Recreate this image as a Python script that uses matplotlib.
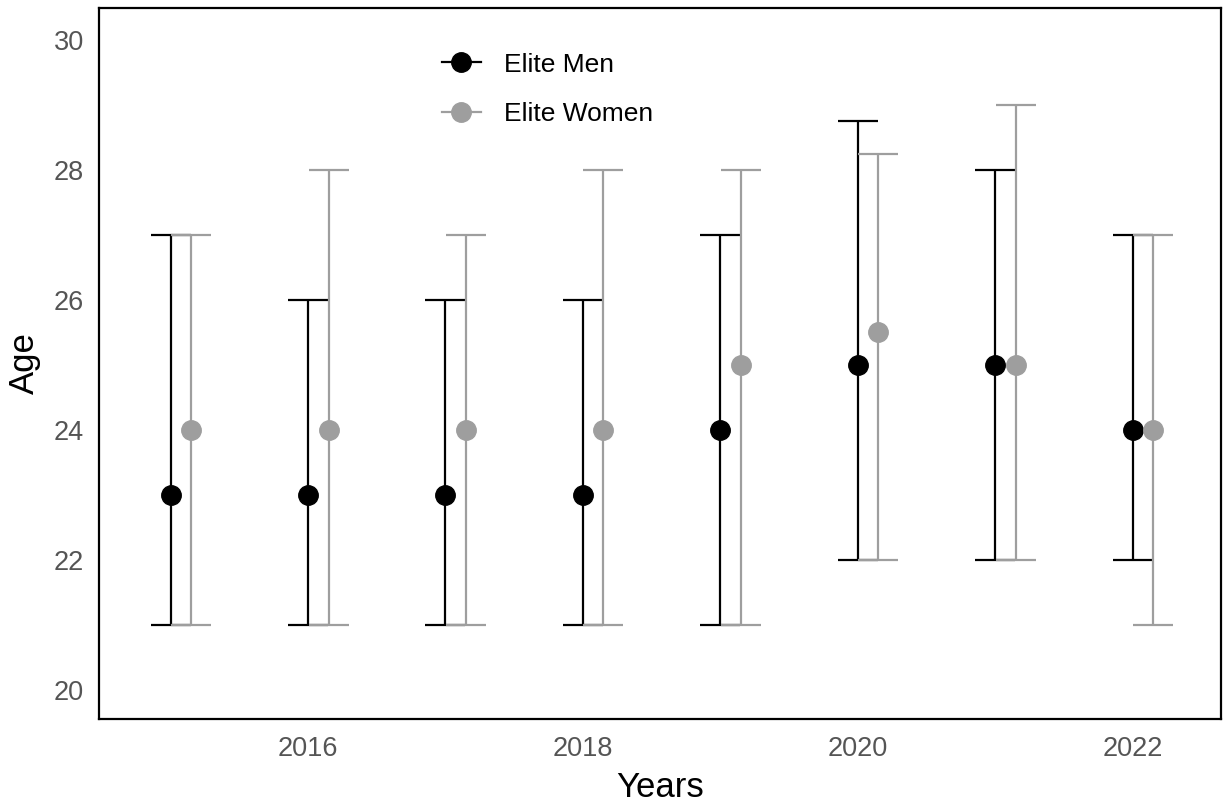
import matplotlib
matplotlib.use("Agg")
import matplotlib.pyplot as plt
from matplotlib.lines import Line2D
import numpy as np

plt.rcParams["font.family"] = ["Liberation Sans", "DejaVu Sans"]

years = np.array([2015, 2016, 2017, 2018, 2019, 2020, 2021, 2022])

# median age and range (low / high) for each group
men_age = [23, 23, 23, 23, 24, 25, 25, 24]
men_low = [21, 21, 21, 21, 21, 22, 22, 22]
men_high = [27, 26, 26, 26, 27, 28.75, 28, 27]

women_age = [24, 24, 24, 24, 25, 25.5, 25, 24]
women_low = [21, 21, 21, 21, 21, 22, 22, 21]
women_high = [27, 28, 27, 28, 28, 28.25, 29, 27]

MEN_COLOR = "black"
WOMEN_COLOR = "#9E9E9E"


def draw_group(ax, x, age, low, high, color, label):
    age = np.array(age)
    yerr = np.vstack([age - np.array(low), np.array(high) - age])
    ax.errorbar(x, age, yerr=yerr, fmt="o", color=color, ecolor=color,
                elinewidth=1.6, capsize=14.4, capthick=1.6, markersize=14,
                linewidth=0, label=label)


def main() -> None:
    fig = plt.figure(figsize=(12.23, 8.05), dpi=100)
    ax = fig.add_axes([0.081, 0.107, 0.917, 0.883])

    draw_group(ax, years, men_age, men_low, men_high, MEN_COLOR, "Elite Men")
    # women dodged slightly to the right
    draw_group(ax, years + 0.15, women_age, women_low, women_high, WOMEN_COLOR, "Elite Women")

    ax.set_xlim(2014.48, 2022.64)
    ax.set_ylim(19.55, 30.49)
    ax.set_xticks([2016, 2018, 2020, 2022])
    ax.set_yticks(np.arange(20, 31, 2))
    ax.tick_params(length=0, labelsize=19.5, colors="#555555")
    ax.tick_params(axis="y", pad=11)
    ax.tick_params(axis="x", pad=12)
    for s in ax.spines.values():
        s.set_linewidth(1.6)
        s.set_color("black")

    ax.set_xlabel("Years", fontsize=25, labelpad=7)
    ax.set_ylabel("Age", fontsize=25, labelpad=9)

    handles = [
        Line2D([], [], color=MEN_COLOR, marker="o", markersize=14, linewidth=1.6),
        Line2D([], [], color=WOMEN_COLOR, marker="o", markersize=14, linewidth=1.6),
    ]
    ax.legend(handles, ["Elite Men", "Elite Women"], loc="upper left",
              bbox_to_anchor=(0.296, 0.952), borderaxespad=0, frameon=False,
              fontsize=19, labelspacing=0.95, handlelength=1.5, handletextpad=0.85)

    fig.savefig("out.png", dpi=100)


if __name__ == "__main__":
    main()
